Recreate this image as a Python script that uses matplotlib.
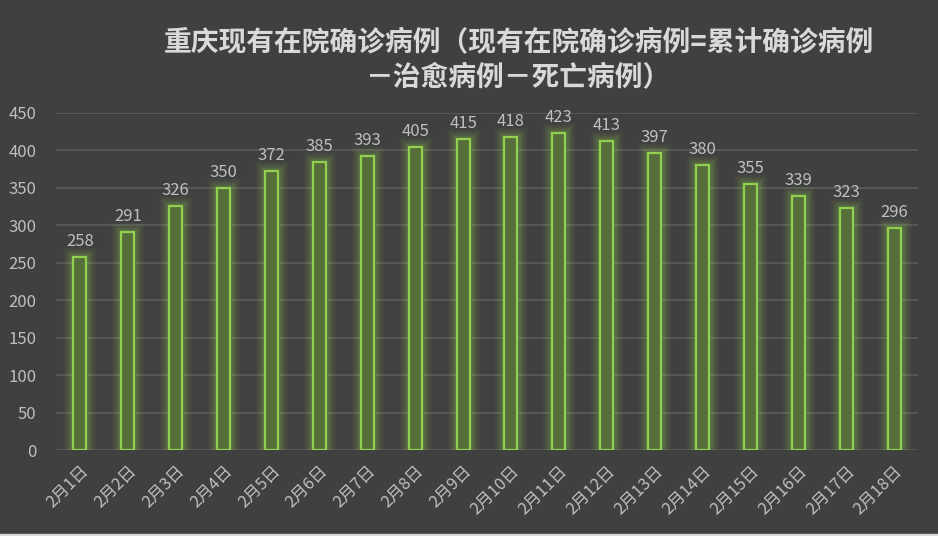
import matplotlib
matplotlib.use("Agg")
import matplotlib.pyplot as plt
from matplotlib.patches import Rectangle

plt.rcParams['font.family'] = ['Noto Sans CJK SC', 'DejaVu Sans']

dates = ["2月1日", "2月2日", "2月3日", "2月4日", "2月5日", "2月6日", "2月7日", "2月8日", "2月9日",
         "2月10日", "2月11日", "2月12日", "2月13日", "2月14日", "2月15日", "2月16日", "2月17日", "2月18日"]
values = [258, 291, 326, 350, 372, 385, 393, 405, 415, 418, 423, 413, 397, 380, 355, 339, 323, 296]
yticks = [0, 50, 100, 150, 200, 250, 300, 350, 400, 450]
title = "重庆现有在院确诊病例（现有在院确诊病例=累计确诊病例\n－治愈病例－死亡病例）"

bg = "#404040"
green = "#92d050"
fill = "#566e3a"
txt = "#bfbfbf"

fig = plt.figure(figsize=(9.38, 5.36), dpi=100, facecolor=bg)
ax = fig.add_axes([0.0597, 0.1604, 0.9190, 0.6288], facecolor=bg)

x = list(range(len(dates)))
w = 0.27
# glow
for lw, a in [(14, 0.05), (11, 0.07), (8, 0.09), (5, 0.12)]:
    ax.bar(x, values, width=w, color="none", edgecolor=green, linewidth=lw, alpha=a, zorder=2)
bars = ax.bar(x, values, width=w, color=fill, edgecolor=green, linewidth=1.6, zorder=3)

for xi, v in zip(x, values):
    ax.annotate(str(v), (xi, v), xytext=(0, 5), textcoords="offset points",
                ha="center", va="bottom", color=txt, fontsize=12, zorder=4)

ax.set_xlim(-0.5, len(dates) - 0.5)
ax.set_ylim(0, 450)
ax.set_yticks(yticks)
ax.yaxis.grid(True, color="#595959", linewidth=1.3, zorder=0)
ax.set_axisbelow(True)
for s in ax.spines.values():
    s.set_visible(False)
ax.tick_params(axis="both", length=0, colors=txt, labelsize=12)
ax.tick_params(axis="y", pad=14)
ax.set_xticks(x)
ax.set_xticklabels(dates, rotation=45, ha="right", rotation_mode="anchor", fontsize=12, color=txt)
ax.tick_params(axis="x", pad=9)

fig.text(0.553, 0.948, title, ha="center", va="top", color="#d9d9d9", fontsize=20,
         fontweight="bold", linespacing=1.32)

fig.patches.append(Rectangle((0, 0), 1, 0.004, transform=fig.transFigure, color="#d9d9d9", zorder=10))

fig.savefig("out.png", dpi=100, facecolor=bg)
